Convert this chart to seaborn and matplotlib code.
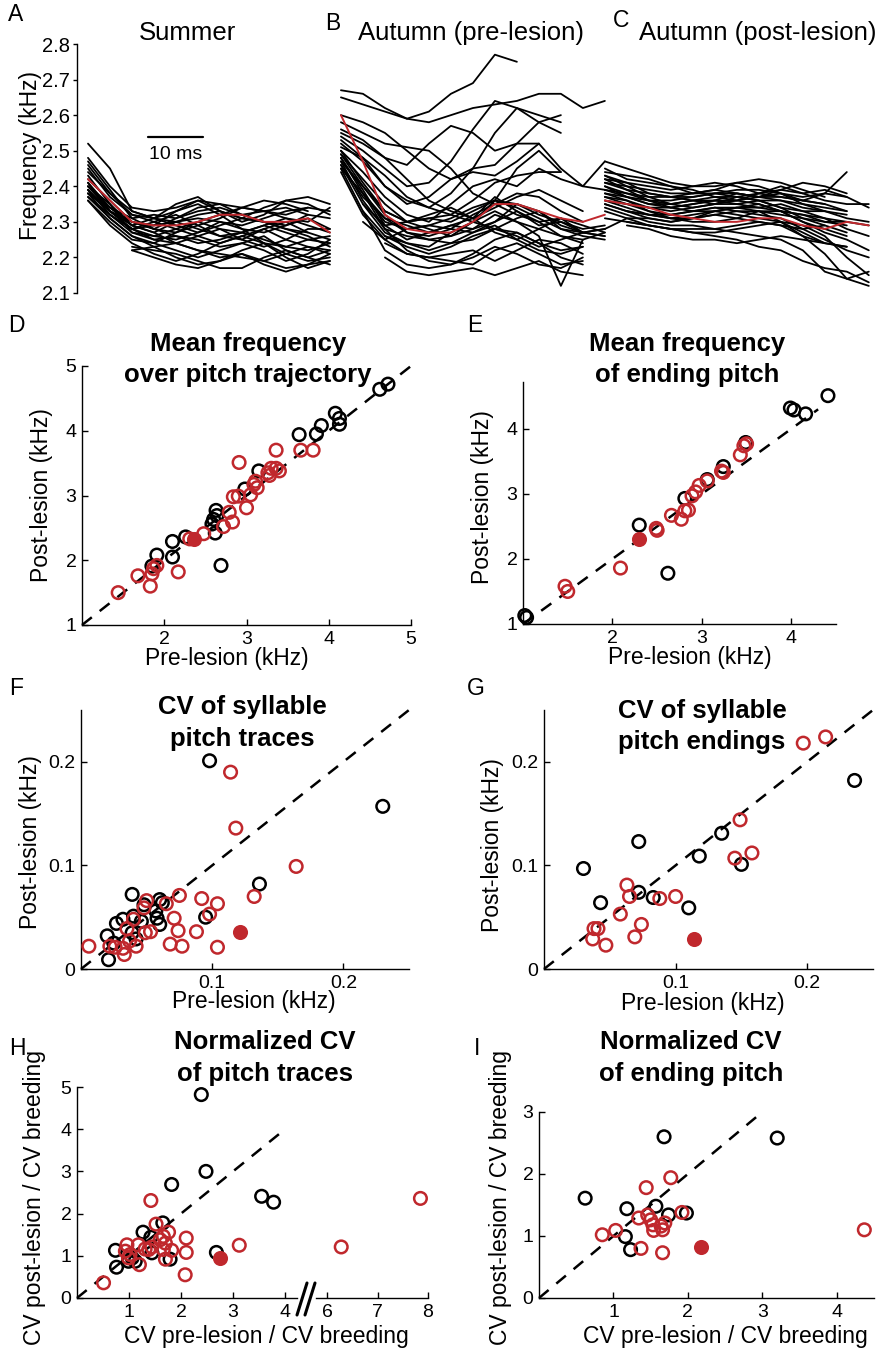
import numpy as np
import pandas as pd
import matplotlib
matplotlib.use('Agg')
import matplotlib.pyplot as plt
from matplotlib.lines import Line2D
import seaborn as sns

nan = np.nan
RED = '#c0282d'

# ---- pitch traces (kHz) for panels A-C, time in ms ----
time_a = [2, 6, 10, 14, 18, 22, 26, 30, 34, 38, 42, 46]
mean_a = [2.42, 2.36, 2.30, 2.29, 2.29, 2.30, 2.32, 2.32, 2.30, 2.30, 2.31, 2.27]
traces_a = [
    [2.52, 2.45, 2.33, 2.31, 2.30, 2.32, 2.33, 2.31, 2.30, 2.28, 2.27, 2.25],
    [2.48, 2.40, 2.34, 2.33, 2.34, 2.36, 2.35, 2.34, 2.33, 2.32, 2.34, nan],
    [2.46, 2.38, 2.32, 2.30, 2.28, 2.30, 2.32, 2.34, 2.36, 2.35, 2.33, nan],
    [2.44, 2.38, 2.33, 2.31, 2.35, 2.37, 2.33, 2.30, 2.32, 2.36, 2.37, 2.35],
    [2.42, 2.36, 2.30, 2.28, 2.27, 2.29, 2.31, 2.34, 2.33, 2.31, 2.30, 2.34],
    [2.41, 2.33, 2.28, 2.25, 2.24, 2.26, 2.28, 2.27, 2.25, 2.23, 2.22, 2.24],
    [2.40, 2.34, 2.30, 2.29, 2.30, 2.31, 2.30, 2.29, 2.31, 2.33, 2.34, 2.33],
    [2.39, 2.32, 2.27, 2.25, 2.26, 2.25, 2.23, 2.24, 2.26, 2.22, 2.20, 2.22],
    [2.38, 2.33, 2.29, 2.27, 2.24, 2.22, 2.21, 2.20, 2.19, 2.21, 2.23, 2.21],
    [2.38, 2.31, 2.26, 2.23, 2.20, 2.18, 2.19, 2.22, 2.24, 2.21, 2.19, 2.20],
    [2.37, 2.32, 2.28, 2.30, 2.32, 2.29, 2.26, 2.27, 2.29, 2.27, 2.25, 2.26],
    [2.36, 2.30, 2.25, 2.24, 2.27, 2.30, 2.28, 2.25, 2.23, 2.25, 2.28, 2.28],
    [2.43, 2.35, 2.29, 2.27, 2.30, 2.28, 2.26, 2.25, 2.28, 2.30, 2.27, nan],
    [nan, nan, 2.23, 2.22, 2.21, 2.19, 2.17, 2.17, 2.20, 2.22, 2.20, 2.18],
    [nan, nan, 2.22, 2.23, 2.24, 2.22, 2.20, 2.21, 2.19, 2.17, 2.18, 2.19],
    [2.45, 2.37, 2.32, 2.31, 2.33, 2.36, 2.33, 2.31, 2.34, 2.36, 2.35, 2.32],
    [2.40, 2.35, 2.27, 2.26, 2.28, 2.26, 2.24, 2.26, 2.28, 2.25, 2.23, 2.22],
    [2.39, 2.33, 2.30, 2.28, 2.31, 2.34, 2.35, 2.32, 2.30, 2.29, 2.31, 2.28],
    [2.37, 2.31, 2.26, 2.24, 2.22, 2.20, 2.22, 2.24, 2.22, 2.19, 2.21, 2.25],
    [2.41, 2.34, 2.29, 2.31, 2.29, 2.27, 2.29, 2.31, 2.30, 2.28, 2.26, 2.23],
    [2.47, 2.39, 2.31, 2.28, 2.26, 2.24, 2.25, 2.27, 2.29, 2.31, 2.29, 2.27],
    [2.39, 2.32, 2.28, 2.29, 2.33, 2.35, 2.32, 2.28, 2.27, 2.29, 2.32, 2.31],
    [2.36, 2.29, 2.24, 2.21, 2.19, 2.21, 2.24, 2.26, 2.24, 2.20, 2.17, 2.19],
    [2.40, 2.33, 2.28, 2.26, 2.25, 2.27, 2.30, 2.28, 2.24, 2.23, 2.25, 2.24],
    [nan, nan, 2.22, 2.20, 2.18, 2.17, 2.19, 2.21, 2.18, 2.16, 2.18, 2.21],
    [2.38, 2.34, 2.31, 2.32, 2.31, 2.33, 2.34, 2.32, 2.33, 2.34, 2.32, nan],
]

time_b = [48, 52, 56, 60, 64, 68, 72, 76, 80, 84, 88, 92, 96]
mean_b = [2.60, 2.47, 2.32, 2.28, 2.27, 2.27, 2.30, 2.35, 2.35, 2.33, 2.31, 2.30, 2.32]
traces_b = [
    [2.67, 2.66, 2.62, 2.59, 2.61, 2.66, 2.69, 2.77, 2.75, nan, nan, nan, nan],
    [2.65, 2.63, 2.61, 2.59, 2.58, 2.60, 2.62, 2.63, 2.64, 2.66, 2.66, 2.62, 2.64],
    [2.54, 2.50, 2.45, 2.40, 2.41, 2.47, 2.56, 2.64, 2.62, 2.58, 2.55, nan, nan],
    [2.60, 2.58, 2.55, 2.50, 2.45, 2.42, 2.45, 2.55, 2.62, 2.60, 2.58, nan, nan],
    [2.55, 2.52, 2.48, 2.46, 2.52, 2.57, 2.55, 2.50, 2.52, 2.58, 2.60, nan, nan],
    [2.52, 2.47, 2.40, 2.35, 2.37, 2.42, 2.44, 2.43, 2.47, 2.52, 2.45, 2.40, 2.39],
    [2.50, 2.44, 2.37, 2.32, 2.30, 2.35, 2.40, 2.42, 2.40, 2.45, 2.42, 2.40, 2.47],
    [2.49, 2.42, 2.35, 2.30, 2.28, 2.26, 2.30, 2.36, 2.45, 2.50, 2.44, nan, nan],
    [2.48, 2.38, 2.30, 2.28, 2.29, 2.28, 2.27, 2.30, 2.33, 2.30, 2.26, 2.24, nan],
    [2.47, 2.36, 2.28, 2.26, 2.25, 2.26, 2.28, 2.32, 2.30, 2.26, 2.12, 2.25, nan],
    [2.46, 2.35, 2.29, 2.30, 2.31, 2.32, 2.30, 2.28, 2.31, 2.33, 2.29, 2.27, 2.28],
    [2.45, 2.33, 2.26, 2.24, 2.22, 2.24, 2.27, 2.29, 2.25, 2.22, 2.21, 2.23, nan],
    [2.44, 2.32, 2.25, 2.21, 2.20, 2.19, 2.18, 2.22, 2.24, 2.21, 2.18, 2.19, nan],
    [nan, 2.35, 2.27, 2.24, 2.23, 2.27, 2.30, 2.33, 2.30, 2.28, 2.26, 2.25, 2.27],
    [nan, 2.33, 2.22, 2.18, 2.17, 2.18, 2.20, 2.23, 2.21, 2.18, 2.17, 2.20, nan],
    [nan, nan, 2.20, 2.16, 2.15, 2.16, 2.17, 2.15, 2.17, 2.19, 2.16, 2.15, nan],
    [2.58, 2.55, 2.52, 2.51, 2.50, 2.45, 2.38, 2.35, 2.38, 2.37, 2.33, 2.30, nan],
    [2.51, 2.48, 2.40, 2.36, 2.34, 2.38, 2.45, 2.46, 2.52, 2.52, nan, nan, nan],
    [2.53, 2.48, 2.43, 2.37, 2.34, 2.32, 2.36, 2.41, 2.43, 2.44, 2.44, nan, nan],
    [2.47, 2.40, 2.33, 2.30, 2.31, 2.30, 2.33, 2.36, 2.35, 2.32, 2.30, 2.27, 2.28],
    [nan, 2.30, 2.25, 2.28, 2.29, 2.31, 2.34, 2.36, 2.34, 2.31, 2.28, 2.27, 2.26],
    [2.46, 2.37, 2.31, 2.29, 2.27, 2.29, 2.31, 2.37, 2.33, 2.29, 2.30, 2.28, 2.29],
    [nan, nan, 2.24, 2.21, 2.20, 2.21, 2.22, 2.19, 2.22, 2.25, 2.24, 2.21, nan],
    [2.45, 2.38, 2.31, 2.27, 2.26, 2.28, 2.32, 2.35, 2.32, 2.30, 2.31, 2.27, 2.26],
    [2.49, 2.40, 2.32, 2.27, 2.25, 2.24, 2.25, 2.28, 2.27, 2.24, 2.22, 2.23, nan],
    [2.50, 2.41, 2.33, 2.30, 2.32, 2.34, 2.31, 2.27, 2.25, 2.28, 2.31, 2.29, 2.27],
    [nan, 2.38, 2.28, 2.22, 2.19, 2.18, 2.21, 2.25, 2.27, 2.24, 2.20, 2.18, nan],
    [2.48, 2.39, 2.29, 2.25, 2.27, 2.29, 2.28, 2.30, 2.35, 2.33, 2.28, 2.26, 2.25],
    [nan, nan, 2.26, 2.23, 2.21, 2.23, 2.26, 2.28, 2.26, 2.23, 2.25, 2.27, nan],
    [2.56, 2.53, 2.48, 2.42, 2.36, 2.33, 2.31, 2.34, 2.37, 2.39, 2.36, 2.33, nan],
]

time_c = [96, 100, 104, 108, 112, 116, 120, 124, 128, 132, 136, 140, 144]
mean_c = [2.36, 2.35, 2.34, 2.32, 2.31, 2.30, 2.30, 2.31, 2.31, 2.29, 2.28, 2.30, 2.29]
traces_c = [
    [2.47, 2.45, 2.43, 2.41, 2.40, 2.40, 2.41, 2.42, 2.41, 2.39, 2.37, nan, nan],
    [2.44, 2.43, 2.42, 2.40, 2.38, 2.39, 2.41, 2.40, 2.38, 2.36, 2.38, 2.44, nan],
    [2.42, 2.41, 2.40, 2.39, 2.40, 2.41, 2.40, 2.38, 2.39, 2.38, 2.36, 2.35, 2.35],
    [2.41, 2.40, 2.39, 2.38, 2.38, 2.38, 2.39, 2.39, 2.38, 2.37, 2.38, 2.37, nan],
    [2.40, 2.38, 2.37, 2.37, 2.38, 2.39, 2.38, 2.37, 2.38, 2.35, 2.33, 2.32, nan],
    [2.39, 2.38, 2.36, 2.35, 2.36, 2.37, 2.37, 2.36, 2.34, 2.33, 2.33, 2.31, 2.30],
    [2.38, 2.37, 2.35, 2.35, 2.36, 2.36, 2.35, 2.34, 2.35, 2.33, 2.31, 2.28, 2.26],
    [2.37, 2.36, 2.34, 2.33, 2.34, 2.35, 2.35, 2.36, 2.34, 2.31, 2.29, 2.27, nan],
    [2.36, 2.35, 2.33, 2.32, 2.33, 2.34, 2.33, 2.32, 2.31, 2.28, 2.25, 2.22, 2.20],
    [2.35, 2.33, 2.31, 2.30, 2.31, 2.33, 2.34, 2.33, 2.30, 2.26, 2.21, 2.14, 2.16],
    [2.34, 2.32, 2.30, 2.29, 2.29, 2.28, 2.27, 2.26, 2.25, 2.22, 2.16, 2.14, 2.12],
    [2.33, 2.31, 2.29, 2.28, 2.27, 2.26, 2.25, 2.23, 2.22, 2.19, 2.17, 2.16, 2.13],
    [2.31, 2.30, 2.29, 2.28, 2.27, 2.27, 2.28, 2.29, 2.30, 2.27, 2.24, 2.23, nan],
    [2.28, 2.31, 2.31, 2.30, 2.31, 2.32, 2.31, 2.30, 2.29, 2.28, 2.29, nan, nan],
    [nan, 2.30, 2.29, 2.28, 2.28, 2.28, 2.29, 2.30, 2.29, 2.26, 2.24, 2.23, nan],
    [nan, 2.29, 2.28, 2.26, 2.25, 2.25, 2.24, 2.25, 2.26, 2.25, 2.24, nan, nan],
    [2.43, 2.41, 2.38, 2.37, 2.36, 2.35, 2.36, 2.38, 2.40, 2.38, 2.39, 2.37, 2.34],
    [2.45, 2.42, 2.41, 2.40, 2.39, 2.37, 2.36, 2.37, 2.39, 2.41, 2.40, 2.38, nan],
    [2.38, 2.36, 2.33, 2.31, 2.30, 2.30, 2.31, 2.33, 2.33, 2.30, 2.27, 2.25, 2.22],
    [2.40, 2.37, 2.35, 2.34, 2.33, 2.33, 2.34, 2.35, 2.33, 2.32, 2.30, 2.30, 2.29],
    [2.42, 2.39, 2.36, 2.34, 2.35, 2.36, 2.38, 2.37, 2.36, 2.34, 2.33, nan, nan],
    [2.36, 2.34, 2.32, 2.31, 2.32, 2.33, 2.32, 2.31, 2.30, 2.29, 2.26, 2.20, 2.15],
    [2.39, 2.37, 2.36, 2.36, 2.37, 2.38, 2.37, 2.36, 2.36, 2.35, 2.34, 2.33, nan],
    [2.37, 2.35, 2.34, 2.34, 2.35, 2.36, 2.36, 2.35, 2.33, 2.32, 2.31, 2.30, nan],
    [2.41, 2.39, 2.38, 2.37, 2.37, 2.38, 2.38, 2.37, 2.37, 2.36, 2.35, nan, nan],
    [2.35, 2.33, 2.32, 2.32, 2.33, 2.34, 2.34, 2.34, 2.33, 2.30, 2.28, 2.26, nan],
    [nan, 2.33, 2.32, 2.31, 2.31, 2.32, 2.33, 2.33, 2.32, 2.31, 2.30, 2.29, nan],
    [2.43, 2.40, 2.37, 2.35, 2.34, 2.35, 2.37, 2.38, 2.37, 2.36, 2.35, 2.33, nan],
]

# ---- D: mean frequency over trajectory (kHz) ----
d_black_pre = [4.62, 4.72, 4.08, 4.13, 4.13, 3.91, 3.85, 3.64, 3.15, 2.98, 2.63,
               2.64, 2.60, 2.58, 2.62, 2.69, 2.26, 2.10, 2.10, 1.91, 1.85]
d_black_post = [4.64, 4.72, 4.27, 4.19, 4.10, 4.08, 3.95, 3.94, 3.38, 3.10, 2.77,
                2.69, 2.63, 2.56, 2.42, 1.92, 2.36, 2.29, 2.05, 2.08, 1.91]
d_red_pre = [1.44, 1.68, 1.83, 1.85, 1.87, 1.91, 2.17, 2.31, 2.48, 2.72, 2.83, 2.79, 2.84,
             2.90, 2.91, 3.00, 3.05, 3.09, 3.13, 3.11, 3.26, 3.30, 3.36, 3.40,
             3.28, 3.36, 3.66, 3.81]
d_red_post = [1.50, 1.76, 1.60, 1.79, 1.87, 1.92, 1.82, 2.33, 2.41, 2.52, 2.59, 2.74, 2.98,
              2.99, 3.51, 2.81, 3.01, 3.17, 3.12, 3.22, 3.35, 3.42, 3.42, 3.38,
              3.31, 3.70, 3.70, 3.70]
d_fill = (2.36, 2.33)

# ---- E: mean frequency of ending pitch (kHz) ----
e_black_pre = [1.02, 1.04, 4.41, 3.99, 4.03, 4.16, 3.49, 3.24, 3.06, 2.81, 2.30, 2.62]
e_black_post = [1.13, 1.10, 4.51, 4.32, 4.29, 4.23, 3.79, 3.42, 3.22, 2.93, 2.52, 1.78]
e_red_pre = [1.47, 1.50, 2.09, 2.49, 2.50, 2.66, 2.77, 2.81, 2.85, 2.89, 2.93,
             2.97, 3.06, 3.22, 3.24, 3.43, 3.47, 3.50]
e_red_post = [1.58, 1.50, 1.86, 2.47, 2.44, 2.67, 2.61, 2.74, 2.75, 2.97, 3.03,
              3.13, 3.20, 3.35, 3.33, 3.60, 3.74, 3.77]
e_fill = (2.30, 2.30)

# ---- F: CV of pitch traces ----
f_black_pre = [0.098, 0.230, 0.136, 0.095, 0.039, 0.060, 0.062, 0.057, 0.060, 0.058,
               0.048, 0.027, 0.032, 0.020, 0.021, 0.025, 0.039, 0.042, 0.046, 0.040]
f_black_post = [0.201, 0.157, 0.082, 0.050, 0.072, 0.067, 0.064, 0.056, 0.043, 0.049,
                0.062, 0.044, 0.048, 0.032, 0.009, 0.025, 0.035, 0.029, 0.046, 0.051]
f_red_pre = [0.114, 0.118, 0.164, 0.132, 0.104, 0.098, 0.092, 0.088, 0.104, 0.077,
             0.068, 0.074, 0.071, 0.075, 0.065, 0.050, 0.048, 0.053, 0.049, 0.042,
             0.040, 0.035, 0.033, 0.032, 0.026, 0.022, 0.006, 0.037]
f_red_post = [0.190, 0.136, 0.099, 0.070, 0.063, 0.053, 0.068, 0.036, 0.021, 0.022,
              0.024, 0.037, 0.049, 0.071, 0.063, 0.066, 0.059, 0.036, 0.035, 0.022,
              0.048, 0.039, 0.014, 0.020, 0.021, 0.022, 0.022, 0.027]
f_fill = (0.121, 0.036)

# ---- G: CV of pitch endings ----
g_black_pre = [0.030, 0.072, 0.043, 0.072, 0.083, 0.110, 0.118, 0.135, 0.150, 0.236]
g_black_post = [0.097, 0.123, 0.064, 0.074, 0.069, 0.059, 0.109, 0.131, 0.101, 0.182]
g_red_pre = [0.197, 0.214, 0.149, 0.145, 0.158, 0.100, 0.088, 0.063, 0.065, 0.058,
             0.074, 0.069, 0.038, 0.041, 0.037, 0.047]
g_red_post = [0.218, 0.224, 0.144, 0.107, 0.112, 0.070, 0.068, 0.081, 0.070, 0.053,
              0.043, 0.031, 0.039, 0.039, 0.029, 0.023]
g_fill = (0.114, 0.029)

# ---- H: normalized CV of pitch traces ----
h_black_pre = [2.39, 2.48, 1.82, 3.55, 3.78, 2.68, 0.74, 0.76, 1.65, 1.27, 1.42,
               1.44, 0.99, 1.06, 1.12, 1.79]
h_black_post = [4.82, 3.00, 2.69, 2.41, 2.27, 1.08, 1.13, 0.73, 1.78, 1.56, 1.44,
                1.07, 0.87, 0.95, 0.87, 0.92]
h_red_pre = [0.51, 0.96, 0.93, 1.02, 0.99, 1.20, 1.18, 1.31, 1.38, 1.44, 1.42, 1.52,
             1.60, 1.66, 1.70, 1.76, 1.66, 1.82, 1.70, 2.10, 2.10, 2.08, 3.12, 6.28, 7.85]
h_red_post = [0.36, 1.26, 1.11, 1.03, 0.95, 0.79, 1.26, 1.16, 1.15, 1.21, 2.31, 1.75,
              1.38, 1.46, 1.30, 1.56, 1.15, 1.13, 0.92, 1.42, 1.08, 0.55, 1.25, 1.21, 2.36]
h_fill = (2.74, 0.95)

# ---- I: normalized CV of ending pitch ----
i_black_pre = [0.62, 1.68, 3.20, 1.18, 1.16, 1.23, 1.57, 1.74, 1.98]
i_black_post = [1.61, 2.60, 2.58, 1.44, 0.99, 0.78, 1.48, 1.34, 1.37]
i_red_pre = [0.85, 1.03, 1.37, 1.66, 1.44, 1.77, 1.92, 1.34, 1.46, 1.50, 1.53, 1.54,
             1.66, 1.69, 1.64, 4.37]
i_red_post = [1.02, 1.09, 0.80, 0.73, 1.78, 1.94, 1.38, 1.29, 1.34, 1.26, 1.18, 1.09,
              1.10, 1.21, 1.16, 1.10]
i_fill = (2.18, 0.82)


sns.set_style('ticks')
plt.rcParams['font.family'] = ['Liberation Sans', 'DejaVu Sans']
plt.rcParams['axes.linewidth'] = 1.0
for k in ['text.color', 'axes.labelcolor', 'xtick.color', 'ytick.color', 'axes.edgecolor']:
    plt.rcParams[k] = 'k'

W, H = 882, 1352
fig = plt.figure(figsize=(W / 100, H / 100), dpi=100)


def box(x0, x1, y0, y1):
    # pixel box -> [left, bottom, width, height] in figure fraction
    return [x0 / W, 1 - y1 / H, (x1 - x0) / W, (y1 - y0) / H]


def ftext(px, py, s, **kw):
    fig.text(px / W, 1 - py / H, s, **kw)


def traces_frame(times, traces, offset):
    rows = []
    for i, tr in enumerate(traces):
        for t, f in zip(times, tr):
            rows.append((t, f, offset + i))
    return pd.DataFrame(rows, columns=['t', 'f', 'trace'])


# ---------------- top: A, B, C pitch traces ----------------
ax = fig.add_axes(box(77, 882, 44, 293))
df = pd.concat([traces_frame(time_a, traces_a, 0),
                traces_frame(time_b, traces_b, 100),
                traces_frame(time_c, traces_c, 200)]).dropna()
sns.lineplot(data=df, x='t', y='f', units='trace', estimator=None, color='k',
             linewidth=1.3, sort=False, legend=False, ax=ax,
             solid_joinstyle='round', solid_capstyle='round')
for times, m in [(time_a, mean_a), (time_b, mean_b), (time_c, mean_c)]:
    sns.lineplot(x=times, y=m, color=RED, linewidth=1.4, sort=False, ax=ax,
                 solid_joinstyle='round')
ax.set_xlim(0, 146.4)
ax.set_ylim(2.1, 2.8)
ax.set_xticks([])
ax.set_yticks([2.1, 2.2, 2.3, 2.4, 2.5, 2.6, 2.7, 2.8])
ax.set_xlabel('')
ax.set_ylabel('')
for s in ['top', 'right', 'bottom']:
    ax.spines[s].set_visible(False)
ax.tick_params(axis='y', direction='out', length=3, width=1, labelsize=14.5, pad=2)
# 10 ms scale bar
ax.plot([12.9, 22.9], [2.539, 2.539], color='k', lw=1.6)
ax.text(17.9, 2.477, '10 ms', ha='center', va='baseline', fontsize=14)


# ---------------- scatter panels ----------------
MS = 82
MLW = 1.8


def scatter_panel(ax, bx, by, rx, ry, fill, diag, xlim, ylim, xt, xl, yt, yl):
    ax.plot(diag, diag, color='k', lw=1.8, dashes=(5, 4), zorder=1, clip_on=False)
    sns.scatterplot(x=bx, y=by, ax=ax, color='k', facecolors='none', edgecolor='k',
                    linewidth=MLW, s=MS, zorder=3, clip_on=False)
    sns.scatterplot(x=rx, y=ry, ax=ax, color=RED, facecolors='none', edgecolor=RED,
                    linewidth=MLW, s=MS, zorder=3, clip_on=False)
    if fill is not None:
        sns.scatterplot(x=[fill[0]], y=[fill[1]], ax=ax, color=RED, edgecolor=RED,
                        linewidth=MLW, s=MS, zorder=4, clip_on=False)
    ax.set_xlim(*xlim)
    ax.set_ylim(*ylim)
    ax.set_xticks(xt)
    ax.set_xticklabels(xl)
    if yt is not None:
        ax.set_yticks(yt)
        ax.set_yticklabels(yl)
    ax.set_xlabel('')
    ax.set_ylabel('')
    sns.despine(ax=ax)
    ax.tick_params(direction='in', length=4, width=1, labelsize=14, pad=4, colors='k')


ax_d = fig.add_axes(box(82, 411, 366, 625))
scatter_panel(ax_d, d_black_pre, d_black_post, d_red_pre, d_red_post, d_fill,
              [1, 5], (1, 5), (1, 5), [2, 3, 4, 5], ['2', '3', '4', '5'],
              [1, 2, 3, 4, 5], ['1', '2', '3', '4', '5'])

ax_e = fig.add_axes(box(523, 836, 382, 624))
scatter_panel(ax_e, e_black_pre, e_black_post, e_red_pre, e_red_post, e_fill,
              [1, 4.3], (1, 4.5), (1, 4.72), [2, 3, 4], ['2', '3', '4'],
              [1, 2, 3, 4], ['1', '2', '3', '4'])

ax_f = fig.add_axes(box(81, 409, 710, 969))
scatter_panel(ax_f, f_black_pre, f_black_post, f_red_pre, f_red_post, f_fill,
              [0, 0.25], (0, 0.25), (0, 0.25), [0.1, 0.2], ['0.1', '0.2'],
              [0, 0.1, 0.2], ['0', '0.1', '0.2'])

ax_g = fig.add_axes(box(544, 873, 710, 969))
scatter_panel(ax_g, g_black_pre, g_black_post, g_red_pre, g_red_post, g_fill,
              [0, 0.25], (0, 0.25), (0, 0.25), [0.1, 0.2], ['0.1', '0.2'],
              [0, 0.1, 0.2], ['0', '0.1', '0.2'])

# H: broken x axis -> two axes
hb = np.array(h_black_pre)
hr = np.array(h_red_pre)
hbp = np.array(h_black_post)
hrp = np.array(h_red_post)
ax_h = fig.add_axes(box(77, 297, 1087, 1298))
scatter_panel(ax_h, hb[hb < 5], hbp[hb < 5], hr[hr < 5], hrp[hr < 5], h_fill,
              [0, 3.9], (0, 4.23), (0, 5), [1, 2, 3, 4], ['1', '2', '3', '4'],
              [0, 1, 2, 3, 4, 5], ['0', '1', '2', '3', '4', '5'])
ax_h2 = fig.add_axes(box(316, 428, 1087, 1298))
scatter_panel(ax_h2, hb[hb > 5], hbp[hb > 5], hr[hr > 5], hrp[hr > 5], None,
              [], (5.78, 8.0), (0, 5), [6, 7, 8], ['6', '7', '8'], None, None)
ax_h2.spines['left'].set_visible(False)
ax_h2.set_yticks([])
for x0, x1 in [(297, 307), (305, 315)]:
    fig.add_artist(Line2D([x0 / W, x1 / W], [1 - 1315 / H, 1 - 1283 / H],
                          color='k', lw=2.2))

ax_i = fig.add_axes(box(539, 874, 1112, 1298))
scatter_panel(ax_i, i_black_pre, i_black_post, i_red_pre, i_red_post, i_fill,
              [0, 3.0], (0, 4.5), (0, 3), [1, 2, 3, 4], ['1', '2', '3', '4'],
              [0, 1, 2, 3], ['0', '1', '2', '3'])

# ---------------- text ----------------
LAB = 16.5
TIT = 18.5
for s, px, py in [('A', 8, 21), ('B', 325, 30), ('C', 613, 27), ('D', 8, 332),
                  ('E', 467, 332), ('F', 9, 695), ('G', 467, 695), ('H', 9, 1055),
                  ('I', 474, 1055)]:
    ftext(px, py, s, fontsize=16.5, ha='left', va='baseline')

ftext(187, 40, 'Summer', fontsize=TIT, ha='center', va='baseline')
ftext(471, 40, 'Autumn (pre-lesion)', fontsize=TIT, ha='center', va='baseline')
ftext(758, 40, 'Autumn (post-lesion)', fontsize=TIT, ha='center', va='baseline')
ftext(30, 156, 'Frequency (kHz)', fontsize=LAB, rotation=90, ha='center', va='center')

titles = [
    (248, 351, 382, 'Mean frequency', 'over pitch trajectory'),
    (687, 351, 382, 'Mean frequency', 'of ending pitch'),
    (242, 714, 746, 'CV of syllable', 'pitch traces'),
    (702, 718, 749, 'CV of syllable', 'pitch endings'),
    (265, 1049, 1081, 'Normalized CV', 'of pitch traces'),
    (691, 1049, 1081, 'Normalized CV', 'of ending pitch'),
]
for px, y1, y2, l1, l2 in titles:
    ftext(px, y1, l1, fontsize=TIT, fontweight='bold', ha='center', va='baseline')
    ftext(px, y2, l2, fontsize=TIT, fontweight='bold', ha='center', va='baseline')

for px, py in [(227, 665), (690, 664), (254, 1008), (703, 1010)]:
    ftext(px, py, 'Pre-lesion (kHz)', fontsize=LAB, ha='center', va='baseline')
for px, py in [(42, 495), (482, 497), (31, 842), (493, 845)]:
    ftext(px, py, 'Post-lesion (kHz)', fontsize=LAB, rotation=90, ha='center', va='center')
for px in [266, 725]:
    ftext(px, 1343, 'CV pre-lesion / CV breeding', fontsize=LAB, ha='center', va='baseline')
for px in [35, 501]:
    ftext(px, 1050, 'CV post-lesion / CV breeding', fontsize=LAB, rotation=90,
          ha='center', va='top')

fig.savefig('out.png', dpi=100)
